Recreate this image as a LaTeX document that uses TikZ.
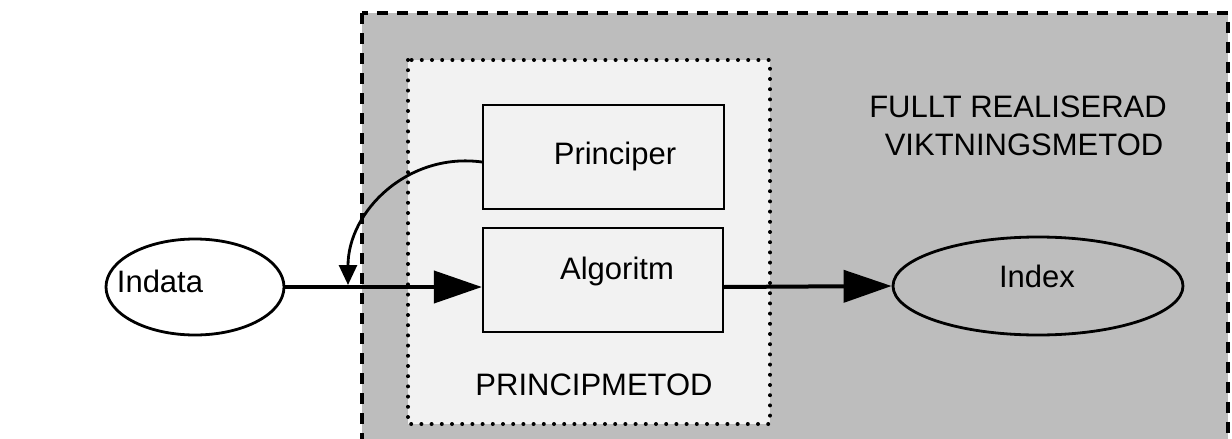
\documentclass[tikz,border=0pt]{standalone}
\usepackage{fontspec}
\setmainfont{Liberation Sans}
\usetikzlibrary{shapes.geometric,arrows.meta}
\definecolor{outergray}{gray}{0.74}
\definecolor{innergray}{gray}{0.95}
\tikzset{
  lbl/.style={anchor=base, inner sep=0pt, font=\fontsize{31}{36}\selectfont},
  stepbox/.style={draw, line width=2.2pt, fill=innergray, minimum width=240pt, minimum height=104pt, inner sep=0pt},
  oval/.style={ellipse, draw, line width=2.8pt, inner sep=0pt},
  mainarrow/.style={line width=4pt, -{Triangle[length=48pt,width=32pt]}},
  thinarrow/.style={line width=2.8pt, -{Triangle[length=20pt,width=18pt]}},
}
\begin{document}
\begin{tikzpicture}[x=1pt,y=-1pt]
\useasboundingbox (0,0) rectangle (1232,439);
\begin{scope}
\clip (0,0) rectangle (1232,439);
% outer shaded dashed region
\draw[fill=outergray, line width=3.2pt, dash pattern=on 11pt off 9pt] (362,13) rectangle (1228,480);
\end{scope}
% inner dotted region
\draw[fill=innergray, line width=4pt, line cap=round, dash pattern=on 0pt off 10.2pt] (408,60) rectangle (770,424);
% boxes
\node[stepbox, minimum width=241pt] (principer) at (603.5,157) {};
\node[stepbox] (algoritm) at (603,280) {};
% ellipses
\node[oval, fill=white, minimum width=178pt, minimum height=96pt] (indata) at (195,287) {};
\node[oval, fill=outergray, minimum width=290pt, minimum height=98pt] (index) at (1038,286) {};
% labels
\node[lbl] (tindata) at (160,292) {Indata};
\node[lbl] (tindex) at (1037,287) {Index};
\node[lbl] (tprinciper) at (615,164) {Principer};
\node[lbl] (talgoritm) at (617,279) {Algoritm};
\node[lbl] (tprincipmetod) at (594,395) {PRINCIPMETOD};
\node[lbl] (tfullt) at (1018,117) {FULLT REALISERAD};
\node[lbl] (tviktning) at (1024,155) {VIKTNINGSMETOD};
% connectors
\coordinate (join) at (348,285);
\draw[mainarrow] (indata.east) -- (indata.east -| algoritm.west);
\draw[mainarrow] (algoritm.east |- indata.east) -- (index.west);
\draw[thinarrow] ([yshift=-5pt]principer.west) .. controls (408,152) and (348,211) .. (join);
\end{tikzpicture}
\end{document}
